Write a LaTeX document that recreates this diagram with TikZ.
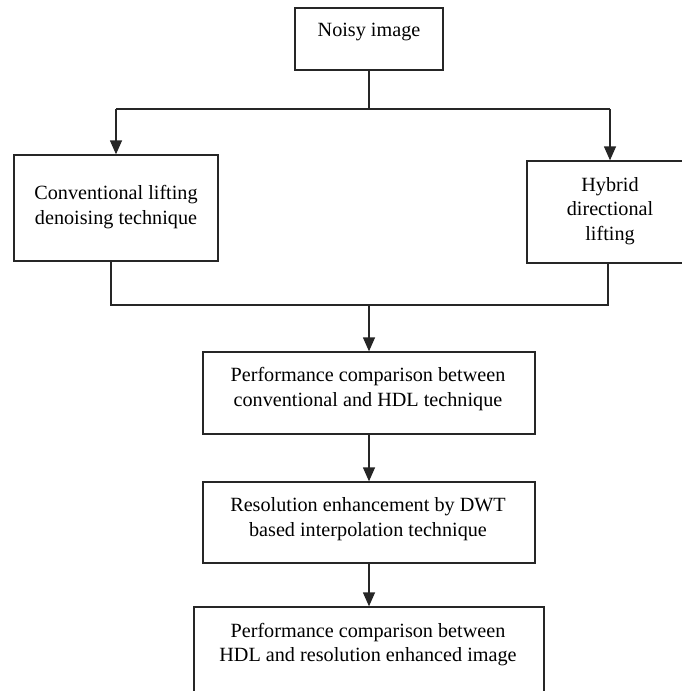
\documentclass[tikz,border=0pt]{standalone}
\usepackage{fontspec}
\setmainfont{Liberation Serif}
\usetikzlibrary{arrows.meta}
\begin{document}
\begin{tikzpicture}[x=1pt,y=-1pt,
  box/.style={draw=black!85,line width=1.3pt,minimum width=#1,inner sep=0pt},
  txt/.style={align=center,font=\fontsize{20.2}{24.5}\selectfont,inner sep=0pt},
  line/.style={draw=black!85,line width=1.3pt},
  arr/.style={line,-{Triangle[length=14pt,width=12pt]}}]
\useasboundingbox (0,0) rectangle (682,691);
\clip (0,0) rectangle (682,691);
\node[box=148pt,minimum height=62pt] (noisy) at (369,39) {};
\node[box=204pt,minimum height=106pt] (left) at (116,208) {};
\node[box=166pt,minimum height=102pt] (right) at (610,212) {};
\node[box=332pt,minimum height=82pt] (perf) at (369,393) {};
\node[box=332pt,minimum height=81pt] (res) at (369,522.5) {};
\node[box=350pt,minimum height=96pt] (final) at (369,655) {};
\node[txt] (tnoisy) at (369,32) {Noisy image};
\node[txt] (tleft) at (116,207) {Conventional lifting\\denoising technique};
\node[txt] (tright) at (610,211) {Hybrid\\directional\\lifting};
\node[txt] (tperf) at (368,389) {Performance comparison between\\conventional and HDL technique};
\node[txt] (tres) at (368,519) {Resolution enhancement by DWT\\based interpolation technique};
\node[txt] (tfinal) at (368,644.5) {Performance comparison between\\HDL and resolution enhanced image};
\coordinate (s1) at (369,109);
\coordinate (l1) at (116,109);
\coordinate (r1) at (610,109);
\coordinate (l2) at (111,305);
\coordinate (r2) at (608,305);
\coordinate (m2) at (369,305);
\draw[line] (noisy.south) -- (s1);
\draw[line] (l1) -- (r1);
\draw[arr] (l1) -- (left.north);
\draw[arr] (r1) -- (right.north);
\draw[line] (left.south -| l2) -- (l2) -- (r2) -- (right.south -| r2);
\draw[arr] (m2) -- (perf.north);
\draw[arr] (perf.south) -- (res.north);
\draw[arr] (res.south) -- (final.north);
\end{tikzpicture}
\end{document}
